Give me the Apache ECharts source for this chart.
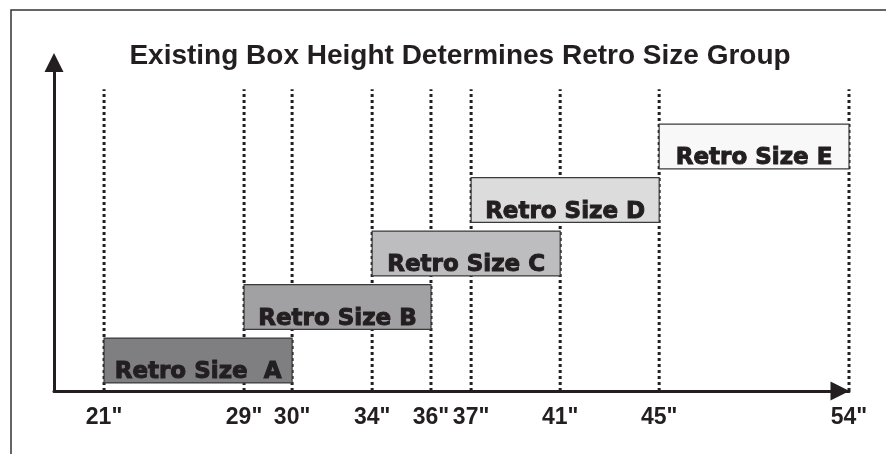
<!DOCTYPE html>
<html>
<head>
<meta charset="utf-8">
<script src="https://cdn.jsdelivr.net/npm/echarts@6/dist/echarts.min.js"></script>
<style>
  html, body { margin: 0; padding: 0; background: #fff; }
  #chart { width: 886px; height: 454px; }
</style>
</head>
<body>
<div id="chart"></div>
<script>
// tick labels along the height axis and where they sit on the (schematic) axis
const tickLabels = ['21"', '29"', '30"', '34"', '36"', '37"', '41"', '45"', '54"']
const tickPos = [21, 27.21, 29.34, 32.89, 35.5, 37.28, 41.23, 45.62, 54.04]

// retro size groups: which height range each one covers
const sizeNames = ['Retro Size  A', 'Retro Size B', 'Retro Size C', 'Retro Size D', 'Retro Size E']
const sizeFrom = ['21"', '29"', '34"', '37"', '45"']
const sizeTo = ['30"', '36"', '41"', '45"', '54"']
const sizeColors = ['#7f7f81', '#a1a1a3', '#bdbdbf', '#dcdcdd', '#f8f8f8']

const ink = '#231f20'
const posOf = label => tickPos[tickLabels.indexOf(label)]
const boxData = sizeNames.map((name, i) => [posOf(sizeFrom[i]), posOf(sizeTo[i]), i, name])

const chart = echarts.init(document.getElementById('chart'))
chart.setOption({
  animation: false,
  title: {
    text: 'Existing Box Height Determines Retro Size Group',
    left: 455,
    top: 37,
    textAlign: 'center',
    textStyle: {
      fontFamily: 'Liberation Sans',
      fontWeight: 'bold',
      fontSize: 28,
      color: ink
    }
  },
  graphic: [{
    type: 'polyline',
    shape: { points: [[11, 454], [11, 10], [886, 10]] },
    style: { stroke: '#333', lineWidth: 1.5, fill: null }
  }],
  grid: {
    left: 54,
    right: 37,
    top: 62.5,
    bottom: 63,
    outerBoundsMode: 'none'
  },
  xAxis: {
    type: 'value',
    min: 18.78,
    max: 54.04,
    splitLine: { show: false },
    axisTick: { show: false },
    axisLine: {
      lineStyle: { color: ink, width: 3 },
      symbol: ['none', 'triangle'],
      symbolSize: [19, 19],
      symbolOffset: [0, -9]
    },
    axisLabel: {
      customValues: tickPos,
      margin: 15,
      fontFamily: 'Liberation Sans',
      fontWeight: 'bold',
      fontSize: 23,
      color: ink,
      formatter: v => {
        let best = 0
        tickPos.forEach((p, i) => { if (Math.abs(p - v) < Math.abs(tickPos[best] - v)) best = i })
        return tickLabels[best]
      }
    }
  },
  yAxis: {
    type: 'value',
    min: 0,
    max: 6.14,
    splitLine: { show: false },
    axisTick: { show: false },
    axisLabel: { show: false },
    axisLine: {
      show: true,
      lineStyle: { color: ink, width: 3 },
      symbol: ['none', 'triangle'],
      symbolSize: [19, 19]
    }
  },
  series: [{
    // dotted guide lines at each tick
    type: 'custom',
    z: 2,
    data: tickPos.map(v => [v]),
    encode: { x: 0 },
    renderItem: (params, api) => {
      const p0 = api.coord([api.value(0), 0])
      const p1 = api.coord([api.value(0), 5.64])
      return {
        type: 'line',
        shape: { x1: p0[0], y1: p0[1], x2: p1[0], y2: p1[1] },
        style: { stroke: ink, lineWidth: 3, lineDash: [3, 3] }
      }
    }
  }, {
    // size group boxes
    type: 'custom',
    z: 3,
    data: boxData,
    encode: { x: [0, 1], y: 2 },
    renderItem: (params, api) => {
      const lvl = api.value(2)
      const tl = api.coord([api.value(0), lvl + 0.99])
      const br = api.coord([api.value(1), lvl + 0.15])
      const i = params.dataIndex
      return {
        type: 'group',
        children: [{
          type: 'rect',
          shape: { x: tl[0], y: tl[1], width: br[0] - tl[0], height: br[1] - tl[1] },
          style: { fill: sizeColors[i], stroke: '#3a3a3a', lineWidth: 1.2 }
        }, {
          type: 'text',
          x: (tl[0] + br[0]) / 2,
          y: br[1] + 1,
          style: {
            text: sizeNames[i],
            align: 'center',
            verticalAlign: 'bottom',
            fill: ink,
            stroke: ink,
            lineWidth: 1,
            font: 'bold 23px "DejaVu Sans"'
          }
        }]
      }
    }
  }]
})
</script>
</body>
</html>
